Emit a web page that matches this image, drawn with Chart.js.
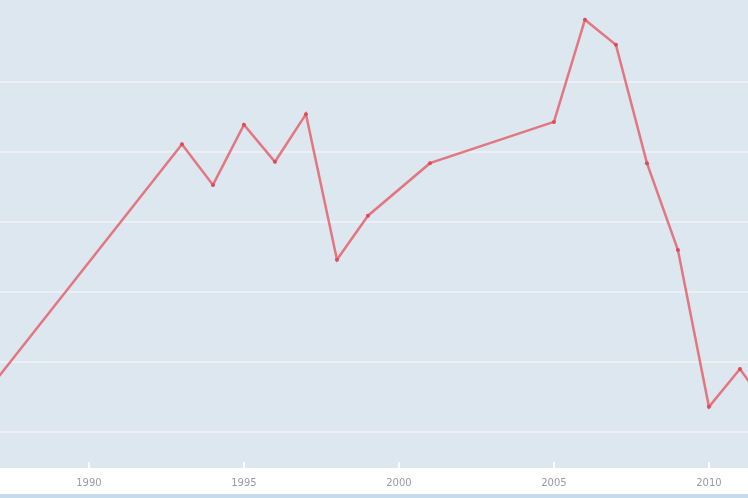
<!DOCTYPE html>
<html>
<head>
<meta charset="utf-8">
<script src="https://cdn.jsdelivr.net/npm/chart.js@4.4.1/dist/chart.umd.min.js"></script>
<style>
  html, body { margin: 0; padding: 0; background: #ffffff; }
</style>
</head>
<body>
<canvas id="chart" width="748" height="498"></canvas>
<script>
// 数据（从图中读取的估计值，中间缺失年份直接连线）
const years  = [1987, 1993, 1994, 1995, 1996, 1997, 1998, 1999, 2001, 2005, 2006, 2007, 2008, 2009, 2010, 2011, 2012];
const values = [27.4, 61.1, 55.3, 63.9, 58.6, 65.4, 44.6, 50.9, 58.4, 64.3, 78.9, 75.3, 58.4, 46.0, 23.6, 29.0, 22.9];
const xTicks = [1990, 1995, 2000, 2005, 2010];
const yTicks = [20, 30, 40, 50, 60, 70];

// 绘图区背景 + 底部白色刻度 + 底边色条
const plotBackground = {
    id: 'plotBackground',
    beforeDraw(chart) {
        const { ctx, chartArea: a } = chart;
        ctx.save();
        ctx.fillStyle = '#dce7f0';
        ctx.fillRect(a.left, a.top, a.right - a.left, a.bottom - a.top);
        ctx.restore();
    },
    afterDraw(chart) {
        const { ctx, chartArea: a, scales, width, height } = chart;
        ctx.save();
        ctx.strokeStyle = '#ffffff';
        ctx.lineWidth = 2;
        xTicks.forEach(t => {
            const x = Math.round(scales.x.getPixelForValue(t));
            ctx.beginPath();
            ctx.moveTo(x, a.bottom - 6);
            ctx.lineTo(x, a.bottom);
            ctx.stroke();
        });
        ctx.fillStyle = '#c6dbeb';
        ctx.fillRect(0, height - 4, width, 4);
        ctx.restore();
    }
};

new Chart(document.getElementById('chart'), {
    type: 'line',
    data: {
        datasets: [{
            data: years.map((y, i) => ({ x: y, y: values[i] })),
            borderColor: 'rgba(229, 90, 100, 0.8)',
            borderWidth: 2.5,
            pointRadius: 2,
            pointBackgroundColor: '#e04a56',
            pointBorderWidth: 0,
            tension: 0
        }]
    },
    options: {
        responsive: false,
        animation: false,
        layout: { autoPadding: false, padding: 0 },
        plugins: {
            legend: { display: false },
            tooltip: { enabled: false }
        },
        scales: {
            x: {
                type: 'linear',
                min: 1987.13,
                max: 2011.26,
                afterBuildTicks: s => { s.ticks = xTicks.map(v => ({ value: v })); },
                grid: { display: false, drawTicks: false },
                border: { display: false },
                ticks: {
                    padding: 9,
                    color: '#9a9aa4',
                    font: { family: 'DejaVu Sans', size: 10 },
                    callback: v => String(v)
                }
            },
            y: {
                min: 14.86,
                max: 81.71,
                afterBuildTicks: s => { s.ticks = yTicks.map(v => ({ value: v })); },
                grid: { color: 'rgba(255, 255, 255, 0.4)', lineWidth: 2, drawTicks: false },
                border: { display: false },
                ticks: { display: false }
            }
        }
    },
    plugins: [plotBackground]
});
</script>
</body>
</html>
